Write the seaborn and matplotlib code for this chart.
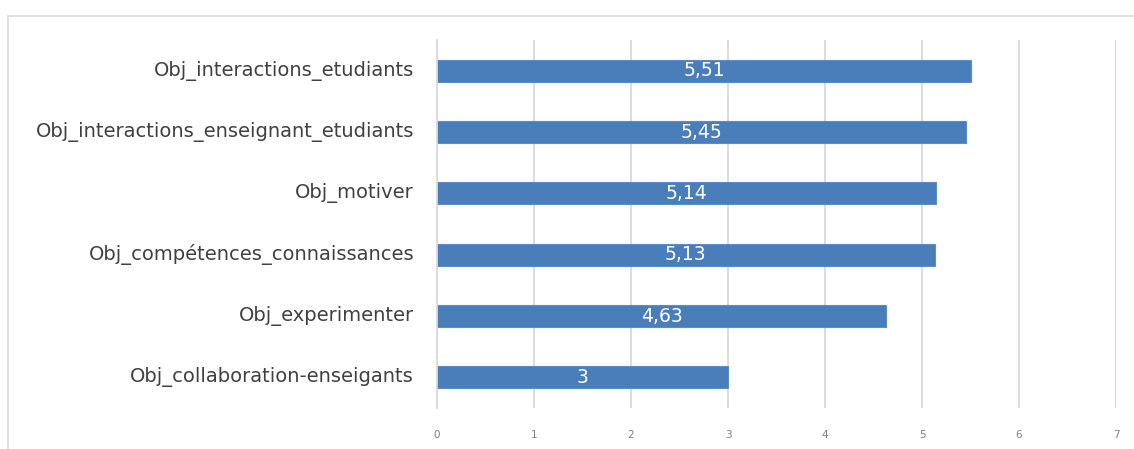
import matplotlib
matplotlib.use("Agg")
import matplotlib.pyplot as plt
from matplotlib.patches import Rectangle
import seaborn as sns
import pandas as pd

categories = [
    "Obj_interactions_etudiants",
    "Obj_interactions_enseignant_etudiants",
    "Obj_motiver",
    "Obj_compétences_connaissances",
    "Obj_experimenter",
    "Obj_collaboration-enseigants",
]
values = [5.51, 5.45, 5.14, 5.13, 4.63, 3]
x_ticks = [0, 1, 2, 3, 4, 5, 6, 7]

df = pd.DataFrame({"objectif": categories, "moyenne": values})

sns.set_theme(style="white")
plt.rcParams["font.family"] = ["DejaVu Sans"]

fig = plt.figure(figsize=(11.34, 4.49), dpi=100)
ax = fig.add_axes([437 / 1134, 1 - 408 / 449, 679 / 1134, 368 / 449])

sns.barplot(data=df, y="objectif", x="moyenne", orient="h", color="#4A7EBB",
            saturation=1, width=0.36, edgecolor="#5B8DC8", linewidth=0.8, ax=ax)

ax.set_xlim(0, 7)
ax.set_xticks(x_ticks)
ax.set_xticklabels([str(t) for t in x_ticks], color="#7F7F7F", fontsize=7.5)
ax.grid(axis="x", color="#D9D9D9", linewidth=1.3)
ax.set_axisbelow(True)
for side in ["top", "right", "bottom"]:
    ax.spines[side].set_visible(False)
ax.spines["left"].set_color("#D9D9D9")
ax.spines["left"].set_linewidth(1.3)
ax.tick_params(axis="x", length=0, pad=16)
ax.tick_params(axis="y", length=0, pad=16.5, labelsize=14, labelcolor="#404040")
for lbl in ax.get_yticklabels():
    lbl.set_verticalalignment("center")
ax.set_xlabel("")
ax.set_ylabel("")

labels = [f"{v:g}".replace(".", ",") for v in values]
ax.bar_label(ax.containers[0], labels=labels, label_type="center",
             color="white", fontsize=13.5)

# outer chart frame
frame = Rectangle((8 / 1134, -0.1), 1.2, 1 - 16 / 449 + 0.1,
                  transform=fig.transFigure, fill=False,
                  edgecolor="#D9D9D9", linewidth=1.2, clip_on=False)
fig.add_artist(frame)

fig.savefig("out.png", dpi=100, facecolor="white")
